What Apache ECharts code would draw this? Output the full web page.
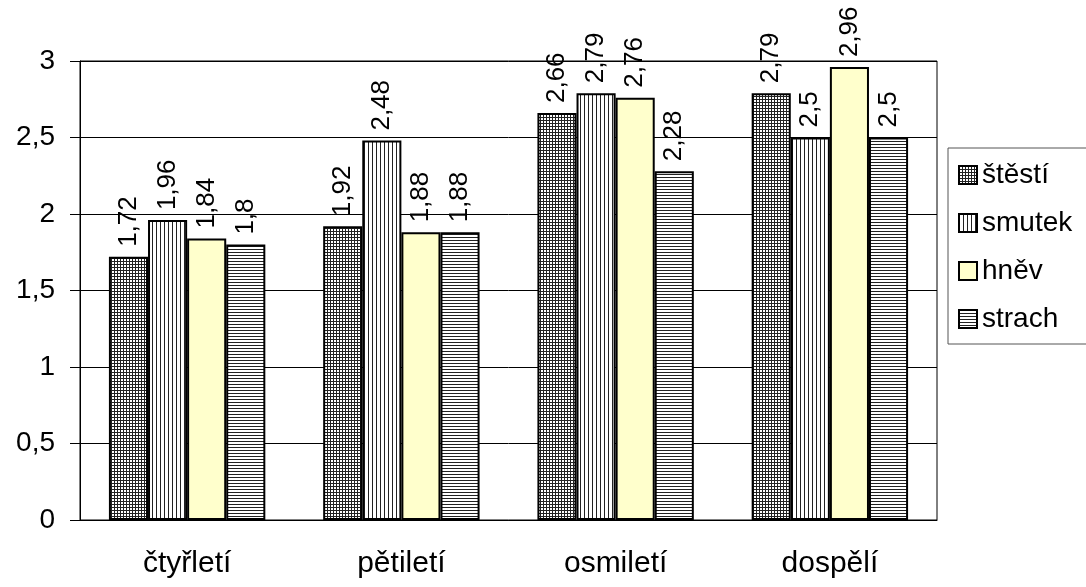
<!DOCTYPE html>
<html>
<head>
<meta charset="utf-8">
<script src="https://cdn.jsdelivr.net/npm/echarts@6/dist/echarts.min.js"></script>
<style>
html,body{margin:0;padding:0;background:#fff;}
#c{width:1086px;height:587px;}
</style>
</head>
<body>
<div id="c"></div>
<script>
const categories = ['čtyřletí', 'pětiletí', 'osmiletí', 'dospělí'];
const seriesNames = ['štěstí', 'smutek', 'hněv', 'strach'];
const stesti = [1.72, 1.92, 2.66, 2.79];
const smutek = [1.96, 2.48, 2.79, 2.5];
const hnev = [1.84, 1.88, 2.76, 2.96];
const strach = [1.8, 1.88, 2.28, 2.5];
const yTicks = [0, 0.5, 1, 1.5, 2, 2.5, 3];

function makePattern(type) {
  const c = document.createElement('canvas');
  const ctx = c.getContext('2d');
  if (type === 'grid') { c.width = 3; c.height = 3; }
  else if (type === 'v') { c.width = 4; c.height = 4; }
  else { c.width = 4; c.height = 3; }
  ctx.fillStyle = '#fff';
  ctx.fillRect(0, 0, c.width, c.height);
  ctx.fillStyle = '#222';
  if (type === 'grid' || type === 'v') ctx.fillRect(0, 0, 1, c.height);
  if (type === 'grid' || type === 'h') ctx.fillRect(0, 0, c.width, 1);
  return { image: c, repeat: 'repeat' };
}

const fills = [makePattern('grid'), makePattern('v'), '#FFFFCC', makePattern('h')];
const values = [stesti, smutek, hnev, strach];
const FONT = '"Liberation Sans", Arial, sans-serif';
const fmt = v => String(v).replace('.', ',');

const chart = echarts.init(document.getElementById('c'), null, { renderer: 'canvas' });
chart.setOption({
  animation: false,
  backgroundColor: '#fff',
  grid: {
    left: 80, right: 149, top: 61, bottom: 67,
    show: true, borderColor: '#000', borderWidth: 1, backgroundColor: 'transparent'
  },
  legend: {
    orient: 'vertical',
    left: 948, top: 148,
    padding: [12, 60, 10, 10],
    itemGap: 18,
    itemWidth: 18, itemHeight: 18,
    icon: 'rect',
    borderColor: '#555', borderWidth: 1,
    textStyle: { fontFamily: FONT, fontSize: 28, lineHeight: 30, color: '#000', padding: [0, 0, 0, 0] },
    data: seriesNames
  },
  xAxis: {
    type: 'category',
    data: categories,
    axisLine: { lineStyle: { color: '#000', width: 1 } },
    axisTick: { inside: true, length: 9, lineStyle: { color: '#000' } },
    axisLabel: { fontFamily: FONT, fontSize: 30, color: '#000', margin: 29 }
  },
  yAxis: {
    type: 'value',
    min: 0, max: 3, interval: 0.5,
    axisLine: { show: true, lineStyle: { color: '#000', width: 1 } },
    axisTick: { show: true, length: 10, lineStyle: { color: '#000' } },
    splitLine: { lineStyle: { color: '#000', width: 1 } },
    axisLabel: {
      fontFamily: FONT, fontSize: 28, color: '#000', margin: 25,
      formatter: v => fmt(v)
    }
  },
  series: seriesNames.map((name, i) => ({
    name,
    type: 'bar',
    data: values[i],
    barGap: '0%',
    barCategoryGap: '27%',
    itemStyle: { color: fills[i], borderColor: '#000', borderWidth: 2 },
    label: {
      show: true,
      position: 'top',
      rotate: 90,
      align: 'left',
      verticalAlign: 'middle',
      distance: 10,
      fontFamily: FONT, fontSize: 26, color: '#000',
      formatter: p => fmt(p.value)
    }
  }))
});
</script>
</body>
</html>
